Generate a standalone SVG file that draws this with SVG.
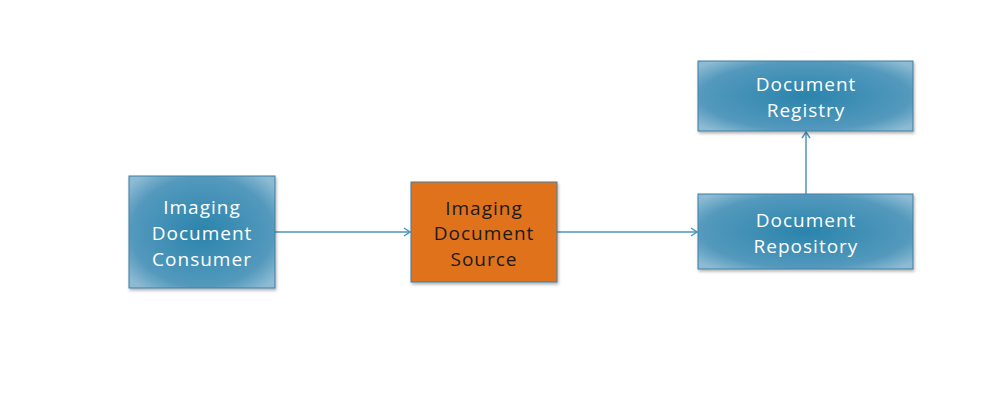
<svg xmlns="http://www.w3.org/2000/svg" width="1000" height="400" viewBox="0 0 1000 400">
<style>
.box{stroke:#3f7fa3;stroke-width:1}
.blue{fill:url(#rg)}
.orange{fill:#e0721f}
.t{font-family:"Open Sans","Liberation Sans",sans-serif;font-size:19px;font-weight:400;letter-spacing:1px;text-anchor:middle}
.w{fill:#ffffff}
.k{fill:#1a1a1a}
.edge{stroke:#4d94ba;stroke-width:1.5;fill:none;marker-end:url(#ah)}
</style>
<defs>
<radialGradient id="rg" cx="50%" cy="50%" r="65%">
<stop offset="0" stop-color="#2a84ac"/>
<stop offset="0.75" stop-color="#5499bd"/>
<stop offset="1" stop-color="#8dbbd3"/>
</radialGradient>
<filter id="sh" x="-10%" y="-10%" width="120%" height="130%">
<feDropShadow dx="1" dy="2" stdDeviation="1.5" flood-color="#000" flood-opacity="0.3"/>
</filter>
<marker id="ah" markerWidth="10" markerHeight="10" refX="8" refY="5" orient="auto" markerUnits="userSpaceOnUse">
<path d="M2,1 L8,5 L2,9" fill="none" stroke="#4d94ba" stroke-width="1.5"/>
</marker>
</defs>
<g id="connectors">
<line class="edge" x1="275" y1="232" x2="410" y2="232"/>
<line class="edge" x1="557" y1="232" x2="697" y2="232"/>
<line class="edge" x1="806" y1="194" x2="806" y2="132"/>
</g>
<g id="consumer">
<rect class="box blue" x="129" y="176" width="146" height="112" filter="url(#sh)"/>
<text class="t w" x="202" y="214">Imaging</text>
<text class="t w" x="202" y="240">Document</text>
<text class="t w" x="202" y="266">Consumer</text>
</g>
<g id="source">
<rect class="box orange" x="411" y="182" width="146" height="100" filter="url(#sh)"/>
<text class="t k" x="484" y="215">Imaging</text>
<text class="t k" x="484" y="240">Document</text>
<text class="t k" x="484" y="266">Source</text>
</g>
<g id="registry">
<rect class="box blue" x="698" y="61" width="215" height="70" filter="url(#sh)"/>
<text class="t w" x="806" y="91">Document</text>
<text class="t w" x="806" y="117">Registry</text>
</g>
<g id="repository">
<rect class="box blue" x="698" y="194" width="215" height="75" filter="url(#sh)"/>
<text class="t w" x="806" y="227">Document</text>
<text class="t w" x="806" y="253">Repository</text>
</g>
</svg>
